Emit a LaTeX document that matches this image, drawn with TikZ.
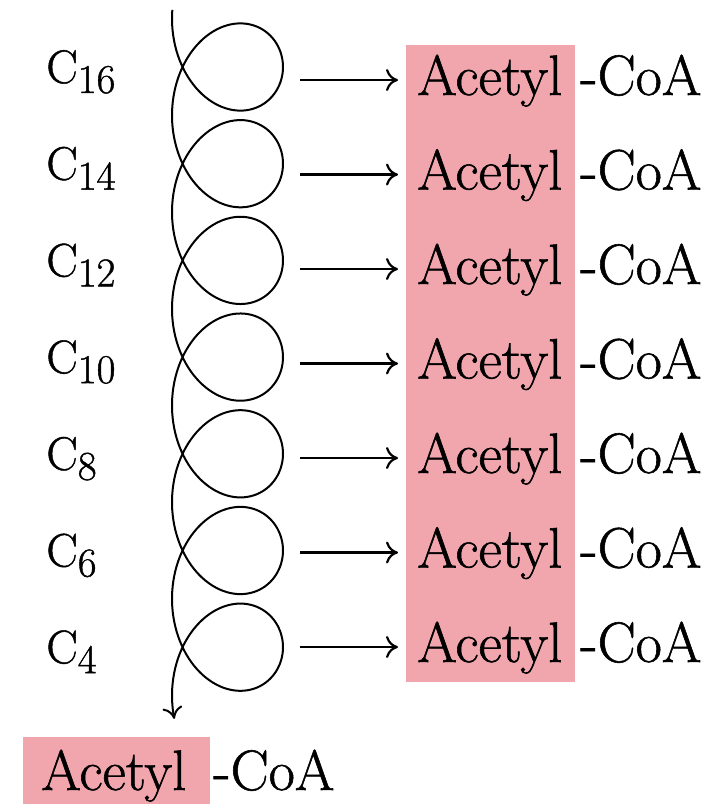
\documentclass[tikz,border=0pt]{standalone}
\usepackage{fontspec}
\newfontfamily\heavy{Latin Modern Roman}[FakeBold=1.0]
\usetikzlibrary{arrows.meta}
\definecolor{acpink}{RGB}{241,166,173}
\newcommand{\clabel}[1]{C\raisebox{-5pt}{\fontsize{20.5}{22}\selectfont #1}}
\begin{document}
\begin{tikzpicture}[x=0.5pt,y=-0.5pt,
 clab/.style={anchor=base west,inner sep=0pt,font=\fontsize{23.5}{26}\selectfont\heavy},
 aclab/.style={anchor=base west,inner sep=0pt,font=\fontsize{28.5}{32}\selectfont\heavy},
 tip/.style={-{Computer Modern Rightarrow[length=6pt,width=11pt]}, line width=1.1pt},
 spiral/.style={line width=1pt,-{Computer Modern Rightarrow[length=6pt,width=10pt]}}]
\useasboundingbox (0,0) rectangle (720,804);
\fill[acpink] (406,45) rectangle (575,682);
\fill[acpink] (23,737) rectangle (210,804);
\foreach \n [count=\i from 0] in {16,14,12,10,8,6,4} {
  \node[clab] (c\n) at (46,{83+96.7*\i}) {\clabel{\n}};
  \node[aclab] (ac\i) at (417,{95+94.5*\i}) {Acetyl};
  \node[aclab] (coa\i) at (580,{95+94.5*\i}) {-CoA};
  \coordinate (as\i) at (300,{80+94.5*\i});
  \coordinate (ae\i) at (398,{80+94.5*\i});
  \draw[tip] (as\i) -- (ae\i);
}
\draw[spiral] plot[domain=-3.25:41.14, samples=700] ({227.5+55.5*cos(\x r)}, {67+15.39*\x-66*sin(\x r)});
\node[aclab] (acb) at (41,790) {Acetyl};
\node[aclab] (coab) at (213,790) {-CoA};
\end{tikzpicture}
\end{document}
